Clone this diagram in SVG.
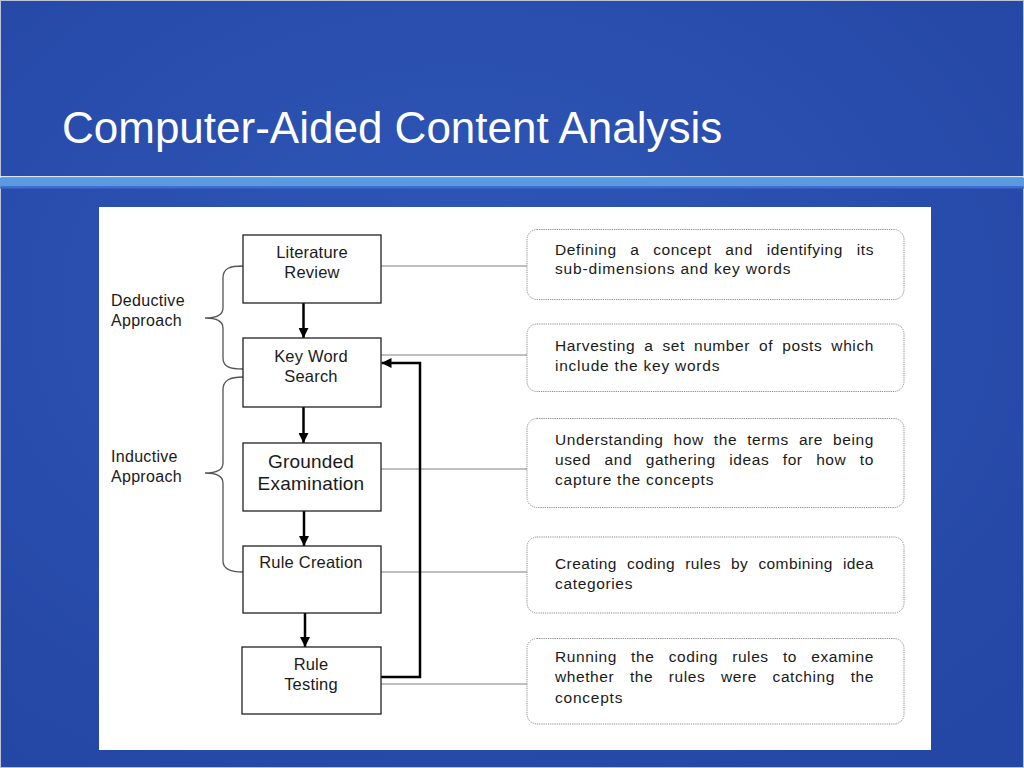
<svg xmlns="http://www.w3.org/2000/svg" width="1024" height="768" viewBox="0 0 1024 768">
  <defs>
    <radialGradient id="bg" cx="0.45" cy="0.4" r="0.75">
      <stop offset="0" stop-color="#2f57b8"/>
      <stop offset="1" stop-color="#2446a4"/>
    </radialGradient>
    <marker id="ah" viewBox="0 0 10 10" refX="10" refY="5" markerWidth="4" markerHeight="4" markerUnits="strokeWidth" orient="auto">
      <path d="M0,0 L10,5 L0,10 z" fill="#000"/>
    </marker>
    <style>
      .title { font-family: "Liberation Sans", Arial, sans-serif; font-size: 44px; fill: #ffffff; }
      .box { fill: #ffffff; stroke: #222; stroke-width: 1.3; }
      .note { fill: #ffffff; stroke: #8a8a8a; stroke-width: 1; stroke-dasharray: 1.2 1; }
      .lbl { font-family: "Liberation Sans", Arial, sans-serif; font-size: 16.5px; fill: #1a1a1a; text-anchor: middle; letter-spacing: 0.2px; }
      .big { font-size: 19px; }
      .side { font-family: "Liberation Sans", Arial, sans-serif; font-size: 16px; fill: #1a1a1a; letter-spacing: 0.3px; }
      .txt { font-family: "Liberation Sans", Arial, sans-serif; font-size: 15.5px; fill: #1a1a1a; letter-spacing: 0.6px; }
      .thin { stroke: #808080; stroke-width: 1; fill: none; }
      .flow { stroke: #000; stroke-width: 2.5; fill: none; }
      .brace { stroke: #555; stroke-width: 1.3; fill: none; }
    </style>
  </defs>

  <!-- slide background -->
  <rect x="0" y="0" width="1024" height="768" fill="url(#bg)"/>
  <rect x="0.5" y="0.5" width="1023" height="767" fill="none" stroke="#b9c4dc" stroke-width="1"/>
  <rect x="0" y="176" width="1024" height="1.5" fill="#dbe6f6"/>
  <rect x="0" y="178" width="1024" height="8.5" fill="#5b9ae2"/>
  <rect x="0" y="186.5" width="1024" height="2" fill="#3c6cce"/>
  <text class="title" x="62" y="143">Computer-Aided Content Analysis</text>

  <!-- white panel -->
  <rect x="99" y="207" width="832" height="543" fill="#ffffff"/>

  <!-- connectors -->
  <g id="connectors">
    <line class="thin" x1="381" y1="266" x2="527" y2="266"/>
    <line class="thin" x1="381" y1="355" x2="527" y2="355"/>
    <line class="thin" x1="381" y1="469" x2="527" y2="469"/>
    <line class="thin" x1="381" y1="572" x2="527" y2="572"/>
    <line class="thin" x1="381" y1="684" x2="527" y2="684"/>
    <line class="flow" x1="303.5" y1="303" x2="303.5" y2="338" marker-end="url(#ah)"/>
    <line class="flow" x1="303.5" y1="407" x2="303.5" y2="443" marker-end="url(#ah)"/>
    <line class="flow" x1="304" y1="511" x2="304" y2="546" marker-end="url(#ah)"/>
    <line class="flow" x1="305" y1="613" x2="305" y2="647" marker-end="url(#ah)"/>
    <polyline class="flow" stroke-width="3" points="381,677 420,677 420,363 381.5,363" marker-end="url(#ah)"/>
    <path class="brace" d="M243,266 C230,266 223,268 223,278 V308 Q223,318 205,318 Q223,318 223,328 V358 C223,367 230,369 243,369"/>
    <path class="brace" d="M243,377 C230,377 223,380 223,390 V463 Q223,473 205,473 Q223,473 223,483 V561 C223,569 230,572 243,572"/>
  </g>

  <!-- side labels -->
  <g id="deductive">
    <text class="side" x="111" y="306">Deductive</text>
    <text class="side" x="111" y="326">Approach</text>
  </g>
  <g id="inductive">
    <text class="side" x="111" y="462">Inductive</text>
    <text class="side" x="111" y="482">Approach</text>
  </g>

  <!-- process boxes -->
  <g id="literature-review">
    <rect class="box" x="243" y="235" width="138" height="68"/>
    <text class="lbl" x="312" y="258">Literature</text>
    <text class="lbl" x="312" y="278">Review</text>
  </g>
  <g id="key-word-search">
    <rect class="box" x="243" y="338" width="138" height="69"/>
    <text class="lbl" x="311" y="362">Key Word</text>
    <text class="lbl" x="311" y="382">Search</text>
  </g>
  <g id="grounded-examination">
    <rect class="box" x="243" y="443" width="138" height="68"/>
    <text class="lbl big" x="311" y="468">Grounded</text>
    <text class="lbl big" x="311" y="490">Examination</text>
  </g>
  <g id="rule-creation">
    <rect class="box" x="243" y="546" width="138" height="67"/>
    <text class="lbl" x="311" y="568">Rule Creation</text>
  </g>
  <g id="rule-testing">
    <rect class="box" x="242" y="647" width="139" height="67"/>
    <text class="lbl" x="311" y="670">Rule</text>
    <text class="lbl" x="311" y="690">Testing</text>
  </g>

  <!-- description notes -->
  <g id="note-1">
    <rect class="note" x="527" y="229.5" width="377" height="70" rx="10"/>
    <text class="txt" x="555" y="255" word-spacing="8.8" textLength="319" lengthAdjust="spacing">Defining a concept and identifying its</text>
    <text class="txt" x="555" y="274" textLength="236" lengthAdjust="spacing">sub-dimensions and key words</text>
  </g>
  <g id="note-2">
    <rect class="note" x="527" y="324" width="377" height="67.5" rx="10"/>
    <text class="txt" x="555" y="351" word-spacing="4.1" textLength="319" lengthAdjust="spacing">Harvesting a set number of posts which</text>
    <text class="txt" x="555" y="371" textLength="165" lengthAdjust="spacing">include the key words</text>
  </g>
  <g id="note-3">
    <rect class="note" x="527" y="418.5" width="377" height="89" rx="10"/>
    <text class="txt" x="555" y="445" word-spacing="5.1" textLength="319" lengthAdjust="spacing">Understanding how the terms are being</text>
    <text class="txt" x="555" y="465" word-spacing="8.6" textLength="319" lengthAdjust="spacing">used and gathering ideas for how to</text>
    <text class="txt" x="555" y="485" textLength="159" lengthAdjust="spacing">capture the concepts</text>
  </g>
  <g id="note-4">
    <rect class="note" x="527" y="537" width="377" height="76" rx="10"/>
    <text class="txt" x="555" y="569" word-spacing="5.5" textLength="319" lengthAdjust="spacing">Creating coding rules by combining idea</text>
    <text class="txt" x="555" y="589" textLength="78" lengthAdjust="spacing">categories</text>
  </g>
  <g id="note-5">
    <rect class="note" x="527" y="638.5" width="377" height="85.5" rx="10"/>
    <text class="txt" x="555" y="662" word-spacing="9.3" textLength="319" lengthAdjust="spacing">Running the coding rules to examine</text>
    <text class="txt" x="555" y="682" word-spacing="10.7" textLength="319" lengthAdjust="spacing">whether the rules were catching the</text>
    <text class="txt" x="555" y="703" textLength="68" lengthAdjust="spacing">concepts</text>
  </g>
</svg>
